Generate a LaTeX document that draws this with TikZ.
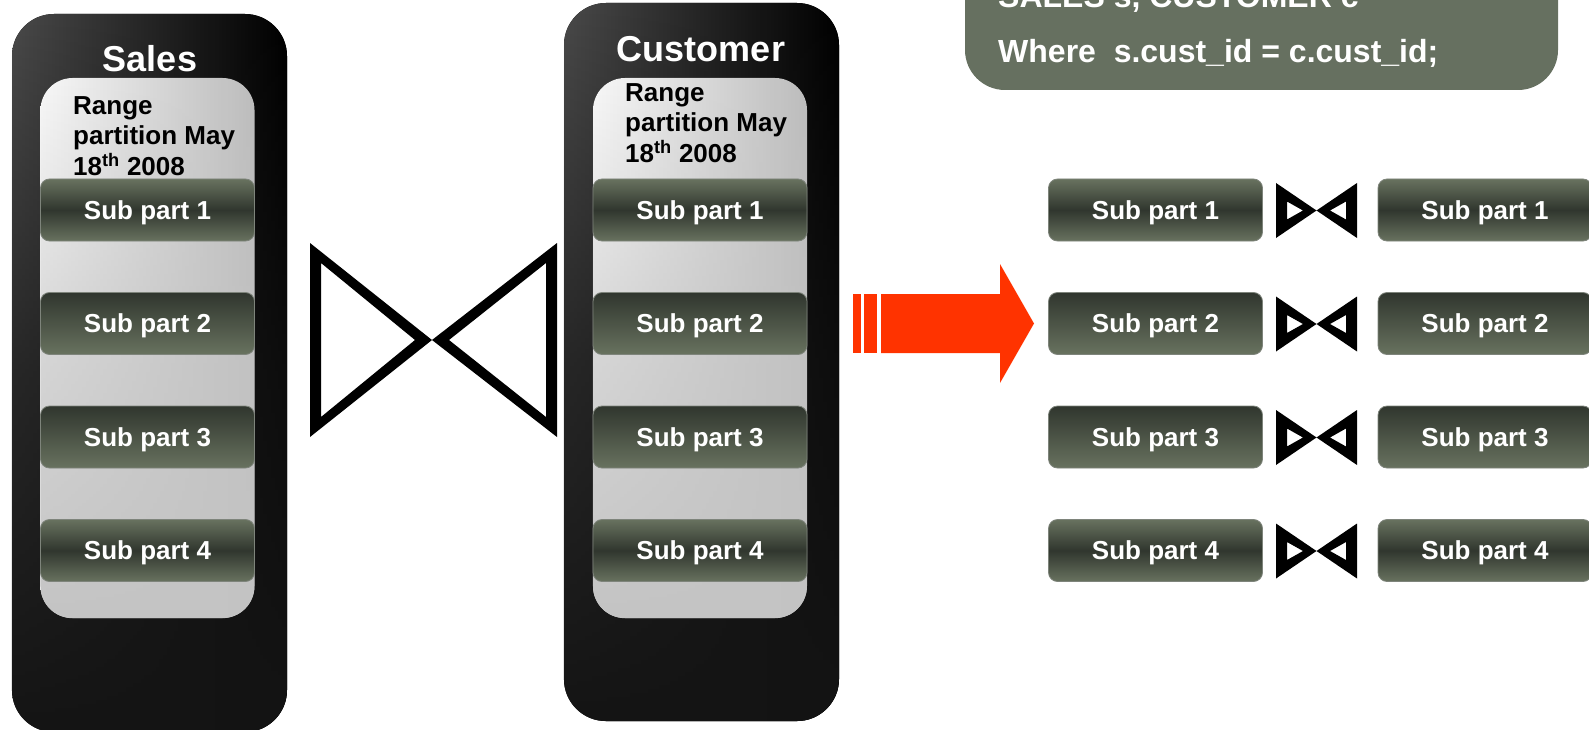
\documentclass[tikz,border=0pt]{standalone}
\usepackage{fontspec}
\setmainfont{Liberation Sans}
\usetikzlibrary{fadings}

\definecolor{subhi}{HTML}{68725F}
\definecolor{sublo}{HTML}{30362E}
\definecolor{subedge}{HTML}{7E847B}
\definecolor{sqlbg}{HTML}{667060}
\definecolor{arrowred}{HTML}{FF3300}
\definecolor{outerL}{HTML}{4A4A4A}
\definecolor{outerD}{HTML}{141414}
\definecolor{panelL}{HTML}{F8F8F8}
\definecolor{panelR}{HTML}{BCBCBC}
\definecolor{panelD}{HTML}{C4C4C4}

% darkening towards the bottom of a column
\tikzfading[name=fadedown, top color=transparent!100, bottom color=transparent!0, middle color=transparent!35]

\tikzset{
  subbase/.style={rounded corners=9pt, minimum width=214pt, minimum height=62pt,
    inner sep=0pt, draw=subedge, line width=0.8pt, text=white,
    text height=18pt, text depth=0pt,
    font=\fontsize{26}{30}\selectfont\bfseries},
  subA/.style={subbase, top color=subhi, bottom color=subhi, middle color=sublo},
  subB/.style={subbase, top color=sublo, bottom color=subhi},
  title/.style={text=white, font=\fontsize{36}{40}\selectfont\bfseries, anchor=base, inner sep=0pt},
  rangelbl/.style={text=black, font=\fontsize{26}{30.5}\selectfont\bfseries, align=left,
    anchor=north west, inner sep=0pt},
  sqltxt/.style={text=white, font=\fontsize{32}{36}\selectfont\bfseries, anchor=base west, inner sep=0pt},
  joinmark/.pic={
    \fill[black, even odd rule]
      (-40.5,-27.5) -- (0,0) -- (40.5,-27.5) -- (40.5,27.5) -- (0,0) -- (-40.5,27.5) -- cycle
      (-29.5,-9) -- (-13.5,0) -- (-29.5,9) -- cycle
      (29.5,-9) -- (13.5,0) -- (29.5,9) -- cycle;
  }
}

\begin{document}
\begin{tikzpicture}[x=1pt, y=-1pt]
\useasboundingbox (0,0) rectangle (1589,730);

% ---------- Sales column ----------
\fill[rounded corners=42pt, left color=outerL, right color=black] (12,14) rectangle (287,732);
\fill[rounded corners=42pt, outerD, path fading=fadedown] (12,14) rectangle (287,732);
\fill[rounded corners=32pt, left color=panelL, right color=panelR] (40.5,78) rectangle (254.5,618);
\fill[rounded corners=32pt, panelD, path fading=fadedown] (40.5,78) rectangle (254.5,618);
\node[title] (salesT) at (150,72) {Sales};
\node[rangelbl] (salesR) at (73,96) {Range\\partition May\\18\textsuperscript{th} 2008};
\node[subA] (sa1) at (147.5,210)   {Sub part 1};
\node[subB] (sa2) at (147.5,323.5) {Sub part 2};
\node[subB] (sa3) at (147.5,437)   {Sub part 3};
\node[subA] (sa4) at (147.5,550.5) {Sub part 4};

% ---------- Customer column ----------
\fill[rounded corners=42pt, left color=outerL, right color=black] (564,3) rectangle (839,721);
\fill[rounded corners=42pt, outerD, path fading=fadedown] (564,3) rectangle (839,721);
\fill[rounded corners=32pt, left color=panelL, right color=panelR] (593,78) rectangle (807,618);
\fill[rounded corners=32pt, panelD, path fading=fadedown] (593,78) rectangle (807,618);
\node[title] (custT) at (701,62) {Customer};
\node[rangelbl] (custR) at (625,83) {Range\\partition May\\18\textsuperscript{th} 2008};
\node[subA] (cu1) at (700,210)   {Sub part 1};
\node[subB] (cu2) at (700,323.5) {Sub part 2};
\node[subB] (cu3) at (700,437)   {Sub part 3};
\node[subA] (cu4) at (700,550.5) {Sub part 4};

% ---------- large join symbol ----------
\fill[black, even odd rule]
  (310,243) -- (432,340) -- (557,243) -- (557,437) -- (432,340) -- (310,437) -- cycle
  (321,263) -- (415,340) -- (321,417) -- cycle
  (546,263) -- (449,340) -- (546,417) -- cycle;

% ---------- SQL statement box ----------
\fill[sqlbg, rounded corners=40pt] (965,-90) rectangle (1558,90);
\node[sqltxt] (sql1) at (998,8)  {SALES s, CUSTOMER c};
\node[sqltxt] (sql2) at (998,63) {Where\ \ s.cust\_id = c.cust\_id;};

% ---------- red arrow ----------
\fill[arrowred] (853,294) rectangle (861,353);
\fill[arrowred] (864,294) rectangle (877,353);
\fill[arrowred] (881,294) -- (1000,294) -- (1000,264) -- (1034,323.5)
  -- (1000,383) -- (1000,353) -- (881,353) -- cycle;

% ---------- partition-wise joins ----------
\node[subA] (l1) at (1155.5,210)   {Sub part 1};
\node[subB] (l2) at (1155.5,323.5) {Sub part 2};
\node[subB] (l3) at (1155.5,437)   {Sub part 3};
\node[subA] (l4) at (1155.5,550.5) {Sub part 4};

\node[subA] (r1) at (1485,210)   {Sub part 1};
\node[subB] (r2) at (1485,323.5) {Sub part 2};
\node[subB] (r3) at (1485,437)   {Sub part 3};
\node[subA] (r4) at (1485,550.5) {Sub part 4};

\pic at (1316.5,210.5) {joinmark};
\pic at (1316.5,324)   {joinmark};
\pic at (1316.5,437.5) {joinmark};
\pic at (1316.5,551)   {joinmark};
\end{tikzpicture}
\end{document}
